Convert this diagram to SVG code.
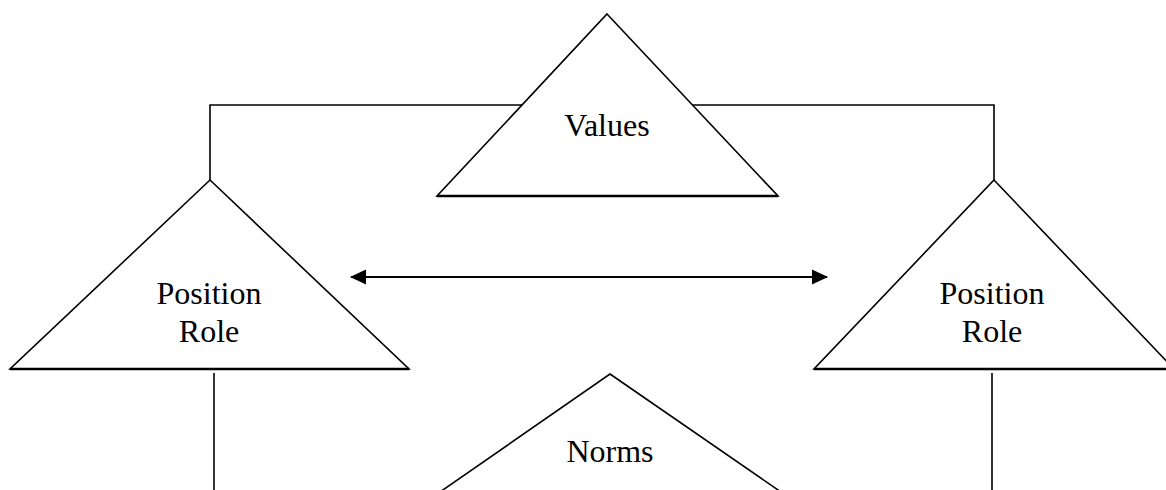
<svg xmlns="http://www.w3.org/2000/svg" width="1166" height="490" viewBox="0 0 1166 490">
<style>
.tri{fill:#fff;stroke:#000;stroke-width:1.6;stroke-linejoin:miter}
.base{stroke:#000;stroke-width:2.4}
.conn{fill:none;stroke:#000;stroke-width:1.6}
.arr{fill:none;stroke:#000;stroke-width:2.2}
.lbl{font-family:"Liberation Serif","Times New Roman",serif;font-size:32px;fill:#000;text-anchor:middle}
</style>
<defs>
<marker id="ah" viewBox="0 0 16 16" refX="15" refY="8" markerWidth="16" markerHeight="16" markerUnits="userSpaceOnUse" orient="auto-start-reverse">
<path d="M0,0.5 L16,8 L0,15.5 Z" fill="#000"/>
</marker>
</defs>
<rect width="1166" height="490" fill="#fff"/>
<g id="connectors">
<path class="conn" d="M210,180 V105 H994 V180"/>
<line class="conn" x1="214" y1="373" x2="214" y2="492"/>
<line class="conn" x1="992" y1="373" x2="992" y2="492"/>
<line class="arr" x1="351" y1="277" x2="827" y2="277" marker-start="url(#ah)" marker-end="url(#ah)"/>
</g>
<g id="values">
<polygon class="tri" points="607,14 778,196 437,196"/>
<line class="base" x1="437" y1="196" x2="778" y2="196"/>
<text class="lbl" x="607" y="136">Values</text>
</g>
<g id="position-left">
<polygon class="tri" points="210,180 409,369 10,369"/>
<line class="base" x1="10" y1="369" x2="409" y2="369"/>
<text class="lbl" x="209" y="304">Position</text>
<text class="lbl" x="209" y="342">Role</text>
</g>
<g id="position-right">
<polygon class="tri" points="994,180 1174,369 814,369"/>
<line class="base" x1="814" y1="369" x2="1174" y2="369"/>
<text class="lbl" x="992" y="304">Position</text>
<text class="lbl" x="992" y="342">Role</text>
</g>
<g id="norms">
<polygon class="tri" points="610,374 781,492 440,492"/>
<text class="lbl" x="610" y="462">Norms</text>
</g>
</svg>
